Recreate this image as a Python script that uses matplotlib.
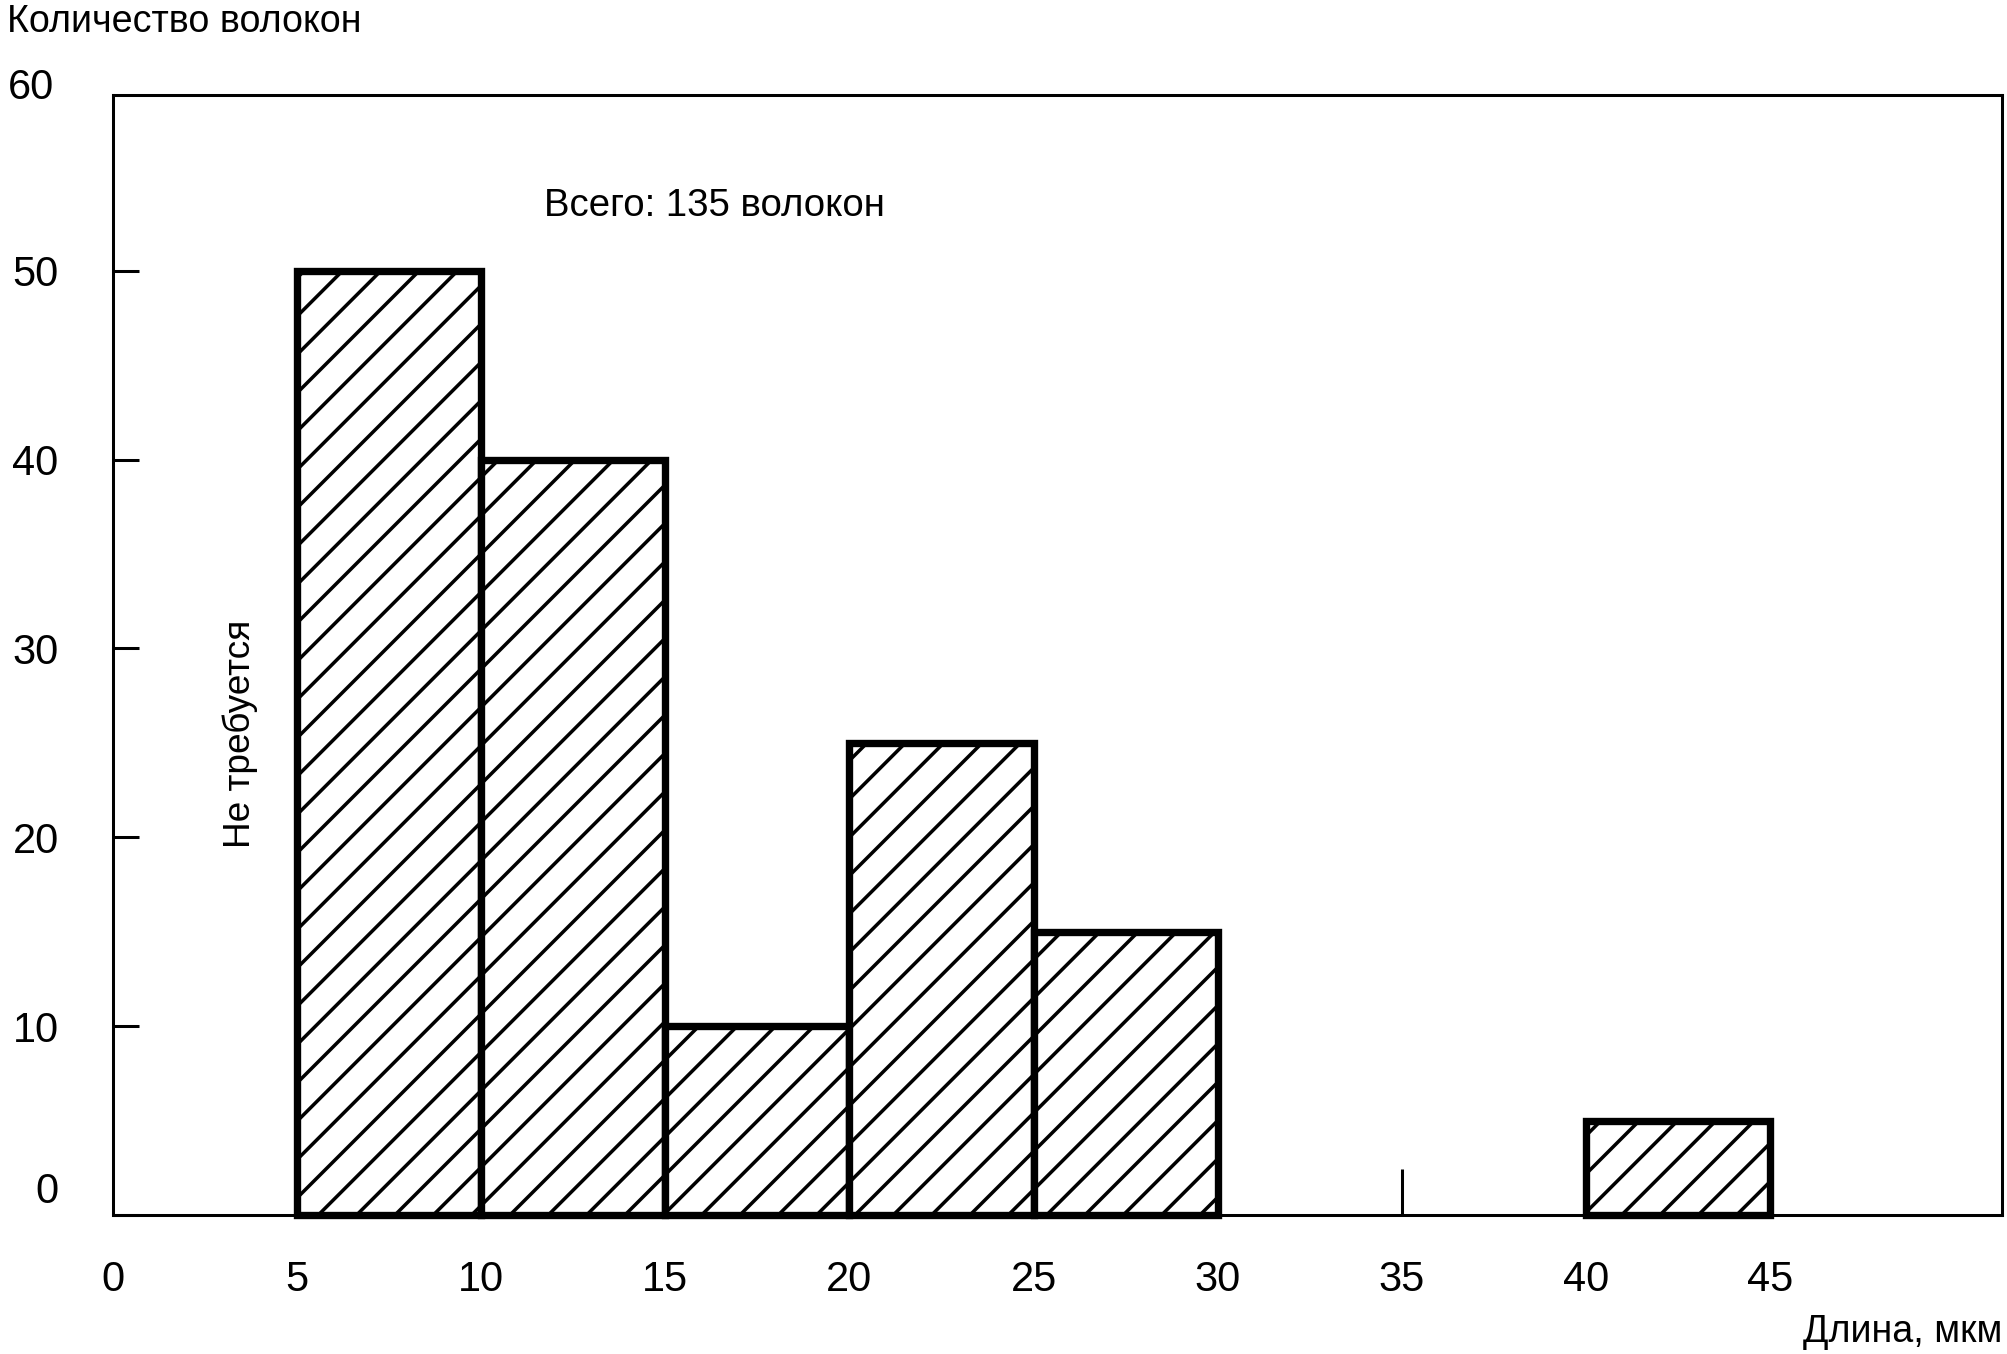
import matplotlib
matplotlib.use("Agg")
import matplotlib.pyplot as plt
import matplotlib.transforms as mtransforms

# Данные гистограммы: интервалы длины (левая граница) и количество волокон
bin_left = [5, 10, 15, 20, 25, 30, 35, 40]
bin_width = 5
counts = [50, 40, 10, 25, 15, 0, 0, 5]

x_ticks = [0, 5, 10, 15, 20, 25, 30, 35, 40, 45]
y_ticks = [0, 10, 20, 30, 40, 50, 60]

y_title = "Количество волокон"
x_title = "Длина, мкм"
total_text = "Всего: 135 волокон"
note_text = "Не требуется"

plt.rcParams['font.family'] = ['Liberation Sans', 'DejaVu Sans']
plt.rcParams['hatch.linewidth'] = 1.1

DPI = 230  # при этом dpi шаг штриховки совпадает с оригиналом
fig = plt.figure(figsize=(2008 / DPI, 1354 / DPI), dpi=DPI)
ax = fig.add_axes([0.0563, 0.1027, 0.9407, 0.8271])

# Столбцы (пустые интервалы не рисуем)
for left, c in zip(bin_left, counts):
    if c > 0:
        ax.bar(left, c, width=bin_width, align='edge', facecolor='white',
               edgecolor='black', linewidth=2.3, hatch='//', clip_on=False)

ax.set_xlim(0, 51.3)
ax.set_yticks(y_ticks[:-1])
ax.set_ylim(0, 59.3)
ax.set_xticks(x_ticks)

for s in ax.spines.values():
    s.set_linewidth(0.95)

ax.tick_params(axis='y', direction='in', length=8.1, width=0.95,
               labelsize=13, pad=17)
ax.tick_params(axis='x', direction='in', length=0, width=0.95,
               labelsize=13, pad=14)

# на оси X видна только одна метка (35)
for t, v in zip(ax.xaxis.get_major_ticks(), x_ticks):
    if v == 35:
        t.tick1line.set_markersize(14.4)

# подпись "0" на оси Y приподнята
lab0 = ax.yaxis.get_major_ticks()[0].label1
lab0.set_transform(lab0.get_transform() +
                   mtransforms.ScaledTranslation(0, 27 / DPI, fig.dpi_scale_trans))

# подпись "60" над рамкой (вне пределов оси)
ax.text(-0.031, y_ticks[-1], str(y_ticks[-1]), fontsize=13,
        ha='right', va='center', clip_on=False,
        transform=mtransforms.blended_transform_factory(ax.transAxes, ax.transData)
        + mtransforms.ScaledTranslation(0, -6 / DPI, fig.dpi_scale_trans))

fig.text(7 / 2008, 1 - 22 / 1354, y_title, fontsize=11.8, ha='left', va='center')
fig.text(2002 / 2008, 1 - 1332 / 1354, x_title, fontsize=11.8, ha='right', va='center')

ax.text(11.7, 53.4, total_text, fontsize=12, ha='left', va='center')
ax.text(3.45, 25.5, note_text, fontsize=11.6, rotation=90, ha='center', va='center')

fig.savefig("out.png", dpi=DPI)
